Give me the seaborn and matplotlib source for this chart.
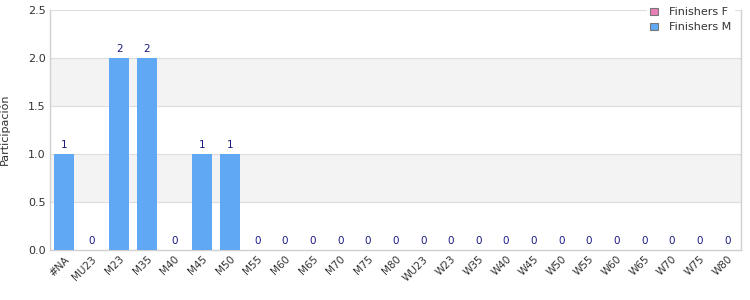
import matplotlib
matplotlib.use("Agg")
import matplotlib.pyplot as plt
import seaborn as sns
import pandas as pd
import numpy as np
from matplotlib.patches import Patch

categories = ["#NA", "MU23", "M23", "M35", "M40", "M45", "M50", "M55", "M60", "M65",
              "M70", "M75", "M80", "WU23", "W23", "W35", "W40", "W45", "W50", "W55",
              "W60", "W65", "W70", "W75", "W80"]
finishers_f = [0] * 25
finishers_m = [1, 0, 2, 2, 0, 1, 1, 0, 0, 0, 0, 0, 0, 0, 0, 0, 0, 0, 0, 0, 0, 0, 0, 0, 0]
yticks = [0.0, 0.5, 1.0, 1.5, 2.0, 2.5]

sns.set_theme(style="white")
plt.rcParams['font.family'] = ['DejaVu Sans']

df = pd.DataFrame({"cat": categories, "F": finishers_f, "M": finishers_m})
totals = [f + m for f, m in zip(finishers_f, finishers_m)]

fig = plt.figure(figsize=(7.5, 3), dpi=100)
ax = fig.add_axes([50/750, 50/300, 691/750, 240/300])

color_m = "#60a8f4"
color_f = "#e97fb6"

sns.barplot(data=df, x="cat", y="M", color=color_m, width=0.72, ax=ax,
            saturation=1, zorder=3, linewidth=0)
sns.barplot(data=df, x="cat", y="F", color=color_f, width=0.72, ax=ax,
            saturation=1, zorder=3, linewidth=0)

ax.set_ylim(0, 2.5)
ax.set_xlim(-0.5, len(categories) - 0.5)
ax.set_yticks(yticks)
ax.set_yticklabels([f"{v:.1f}" for v in yticks], fontsize=8, color="#333333")
ax.set_xticks(range(len(categories)))
ax.set_xticklabels(categories, rotation=45, ha="right", rotation_mode="anchor",
                   fontsize=7.5, color="#333333")
ax.tick_params(axis="both", length=0, pad=3)
ax.set_xlabel("")
ax.set_ylabel("")

# alternating bands
for lo, hi in [(0.5, 1.0), (1.5, 2.0)]:
    ax.axhspan(lo, hi, color="#f3f3f3", zorder=0, lw=0)
for v in yticks[1:]:
    ax.axhline(v, color="#dddddd", lw=0.8, zorder=1)

for s in ["top"]:
    ax.spines[s].set_visible(False)
for s in ["left", "bottom", "right"]:
    ax.spines[s].set_color("#d0d0d0")
    ax.spines[s].set_linewidth(1)

for i, t in enumerate(totals):
    ax.text(i, t + 0.04, f"{t}", ha="center", va="bottom", fontsize=7.5,
            color="#1a1a80", zorder=4)

fig.text(-1/750, 1 - 129/300, "Participación", rotation=90, ha="left", va="center",
         fontsize=8, color="#333333")

handles = [Patch(facecolor=color_f, edgecolor="#777777", lw=0.8, label="Finishers F"),
           Patch(facecolor=color_m, edgecolor="#777777", lw=0.8, label="Finishers M")]
leg = fig.legend(handles=handles, loc="upper left", bbox_to_anchor=(641/750, 1.005),
                 frameon=True, fontsize=8, handlelength=0.7, handleheight=0.7,
                 handletextpad=1.0, labelspacing=0.45, borderpad=0.3)
leg.get_frame().set_edgecolor("white")
leg.get_frame().set_facecolor("white")
leg.get_frame().set_alpha(1)
leg.set_zorder(10)
for t in leg.get_texts():
    t.set_color("#333333")

fig.savefig("out.png", dpi=100)
